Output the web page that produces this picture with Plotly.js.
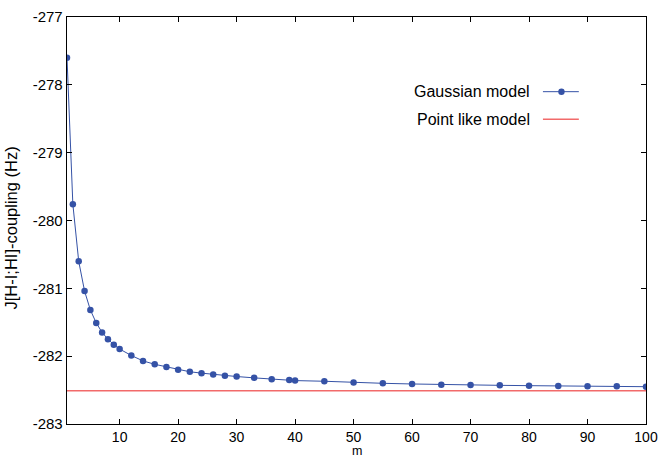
<!DOCTYPE html>
<html>
<head>
<meta charset="utf-8">
<script src="https://cdn.plot.ly/plotly-3.0.1.min.js"></script>
<style>html,body{margin:0;padding:0;background:#fff;}#plot{width:660px;height:459px;}</style>
</head>
<body>
<div id="plot"></div>
<script>
// m values (x) and Gaussian model J values (Hz)
var mValues = [1, 2, 3, 4, 5, 6, 7, 8, 9, 10, 12, 14, 16, 18, 20, 22, 24, 26, 28, 30,
               33, 36, 39, 40, 45, 50, 55, 60, 65, 70, 75, 80, 85, 90, 95, 100];
var gaussianJ = [-277.60, -279.76, -280.60, -281.04, -281.32, -281.51, -281.65, -281.75, -281.83, -281.895,
                 -281.99, -282.07, -282.12, -282.16, -282.20, -282.23, -282.25, -282.27, -282.29, -282.30,
                 -282.32, -282.34, -282.35, -282.36, -282.37, -282.39, -282.40, -282.41, -282.42, -282.425,
                 -282.43, -282.435, -282.44, -282.445, -282.445, -282.45];
// Point like model (constant)
var pointLikeX = [1, 100];
var pointLikeJ = [-282.51, -282.51];
var xTicks = [10, 20, 30, 40, 50, 60, 70, 80, 90, 100];
var yTicks = [-283, -282, -281, -280, -279, -278, -277];
var yTickText = ['-283', '-282', '-281', '-280', '-279', '-278', '-277'];
var legendLabels = ["Gaussian model", "Point like model"];
var xTitle = 'm';
var yTitle = 'J[H-I;HI]-coupling (Hz)';

var blue = '#3552a6';
var red = '#f26a6a';
var FONT = 'Liberation Sans, Arial, Helvetica, sans-serif';

var traces = [
  {x: pointLikeX, y: pointLikeJ, mode: 'lines', line: {color: red, width: 1.5},
   name: legendLabels[1], showlegend: false, hoverinfo: 'skip'},
  {x: mValues, y: gaussianJ, mode: 'lines+markers', line: {color: blue, width: 1},
   marker: {color: blue, size: 6.5}, name: legendLabels[0], showlegend: false}
];

var legX0 = 0.822, legX1 = 0.884, legMk = 0.854, legY1 = 0.8165, legY2 = 0.749, legTx = 0.803;

var layout = {
  width: 660, height: 459,
  margin: {l: 67, r: 14, t: 17, b: 35},
  paper_bgcolor: '#fff', plot_bgcolor: '#fff',
  font: {family: FONT, color: '#000'},
  showlegend: false,
  xaxis: {
    range: [1, 100], tickmode: 'array', tickvals: xTicks,
    ticks: 'inside', ticklen: 5, tickwidth: 1, tickcolor: '#000',
    showline: true, linecolor: '#000', linewidth: 1.3, mirror: 'ticks',
    showgrid: false, zeroline: false,
    tickfont: {size: 14, family: FONT}
  },
  yaxis: {
    range: [-283, -277], tickmode: 'array', tickvals: yTicks, ticktext: yTickText,
    ticks: 'inside', ticklen: 5, tickwidth: 1, tickcolor: '#000',
    showline: true, linecolor: '#000', linewidth: 1.3, mirror: 'ticks',
    showgrid: false, zeroline: false,
    tickfont: {size: 15, family: FONT}
  },
  shapes: [
    {type: 'line', xref: 'paper', yref: 'paper', x0: legX0, x1: legX1, y0: legY1, y1: legY1,
     line: {color: blue, width: 1}},
    {type: 'circle', xref: 'paper', yref: 'paper', xsizemode: 'pixel', ysizemode: 'pixel',
     xanchor: legMk, yanchor: legY1, x0: -3.2, x1: 3.2, y0: -3.2, y1: 3.2,
     fillcolor: blue, line: {color: blue, width: 0}},
    {type: 'line', xref: 'paper', yref: 'paper', x0: legX0, x1: legX1, y0: legY2, y1: legY2,
     line: {color: red, width: 1.5}}
  ],
  annotations: [
    {xref: 'paper', yref: 'paper', x: legTx, y: legY1, xanchor: 'right', yanchor: 'middle',
     text: legendLabels[0], showarrow: false, font: {size: 16, family: FONT}},
    {xref: 'paper', yref: 'paper', x: legTx, y: legY2, xanchor: 'right', yanchor: 'middle',
     text: legendLabels[1], showarrow: false, font: {size: 16, family: FONT}},
    {xref: 'paper', yref: 'paper', x: -0.0976, y: 0.4816, xanchor: 'center', yanchor: 'middle',
     textangle: -90, text: yTitle, showarrow: false, font: {size: 16.5, family: FONT}},
    {xref: 'paper', yref: 'paper', x: 0.5, y: -0.0675, xanchor: 'center', yanchor: 'middle',
     text: xTitle, showarrow: false, font: {size: 12.5, family: FONT}}
  ]
};

Plotly.newPlot('plot', traces, layout, {displayModeBar: false, staticPlot: true});
</script>
</body>
</html>
